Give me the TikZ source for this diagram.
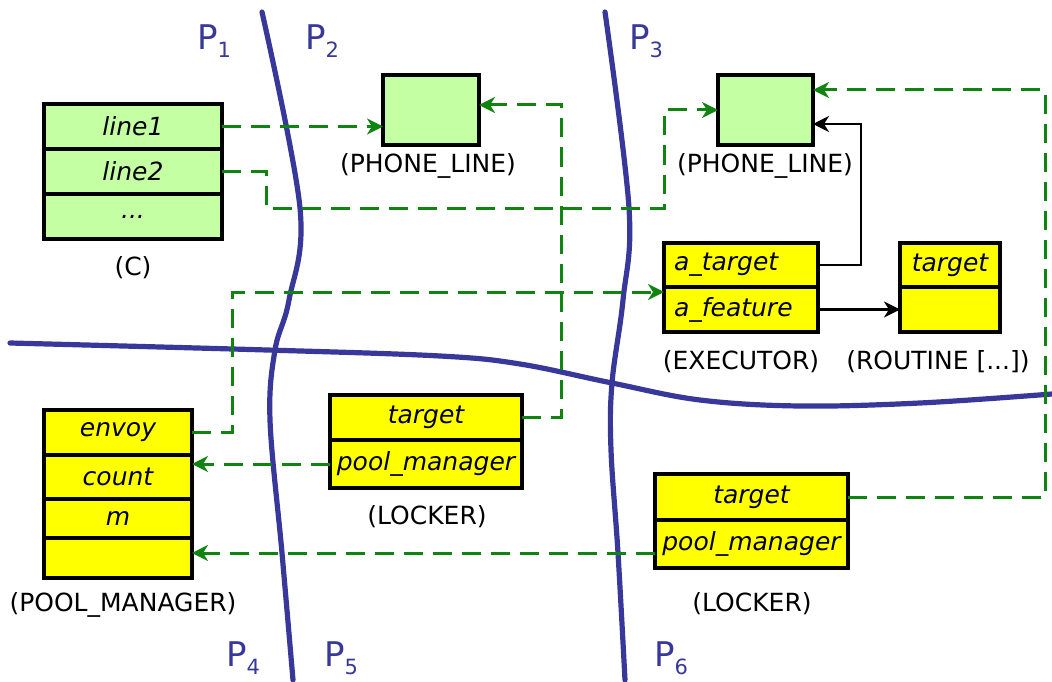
\documentclass[tikz,border=0pt]{standalone}
\usepackage{fontspec}
\setmainfont{DejaVu Sans}
\usetikzlibrary{arrows.meta,calc}

\definecolor{partblue}{RGB}{56,56,155}
\definecolor{refgreen}{RGB}{16,132,16}
\definecolor{objgreen}{RGB}{196,255,164}
\definecolor{objyellow}{RGB}{255,255,0}

\tikzset{
  objrow/.style={draw=black, line width=3.4pt, inner sep=0pt, outer sep=0pt,
    font=\fontsize{25}{29}\selectfont\itshape},
  greenrow/.style={objrow, fill=objgreen},
  yellowrow/.style={objrow, fill=objyellow},
  leftrow/.style={yellowrow, text width=#1, align=left, inner xsep=10pt},
  captiontext/.style={font=\fontsize{25}{29}\selectfont, inner sep=0pt},
  partline/.style={draw=partblue, line width=5.2pt, line cap=round},
  plabel/.style={text=partblue, font=\fontsize{34}{38}\selectfont, inner sep=0pt},
  refline/.style={draw=refgreen, line width=3pt, dash pattern=on 19pt off 10pt,
    -{Stealth[length=16pt, width=16pt, inset=5pt]}},
  linkline/.style={draw=black, line width=2.8pt,
    -{Stealth[length=16pt, width=16pt, inset=5pt]}}
}

\newcommand{\plab}[2]{#1\raisebox{-8pt}{\fontsize{21}{24}\selectfont #2}}

\begin{document}
\begin{tikzpicture}[x=1pt, y=-1pt]
\useasboundingbox (0,0) rectangle (1052,682);

% partition boundaries
\draw[partline] plot[smooth, tension=0.6] coordinates
  {(262,12) (300,208) (289,300) (275,350) (270,420) (282,553) (293,680)};
\draw[partline] plot[smooth, tension=0.6] coordinates
  {(605,12) (629,208) (623,300) (612,383) (611,450) (618,553) (625,680)};
\draw[partline] plot[smooth, tension=0.6] coordinates
  {(10,343) (267,350) (440,356) (520,364) (612,383) (700,400) (800,406) (920,403) (1052,394)};

\node[plabel, anchor=base west] (p1) at (197,50) {\plab{P}{1}};
\node[plabel, anchor=base west] (p2) at (305,50) {\plab{P}{2}};
\node[plabel, anchor=base west] (p3) at (629,50) {\plab{P}{3}};
\node[plabel, anchor=base west] (p4) at (226,666) {\plab{P}{4}};
\node[plabel, anchor=base west] (p5) at (324,666) {\plab{P}{5}};
\node[plabel, anchor=base west] (p6) at (654,666) {\plab{P}{6}};

% object C
\node[greenrow, minimum width=178, minimum height=45] (c1) at (133,126.5) {line1};
\node[greenrow, minimum width=178, minimum height=45] (c2) at (133,171.5) {line2};
\node[greenrow, minimum width=178, minimum height=45] (c3) at (133,216.5) {...};
\node[captiontext] (cc) at (133,268) {(C)};

% PHONE_LINE objects
\node[greenrow, minimum width=96, minimum height=70] (pl1) at (431,110) {};
\node[captiontext] (cpl1) at (428,166) {(PHONE\_LINE)};
\node[greenrow, minimum width=95, minimum height=70] (pl2) at (765.5,110) {};
\node[captiontext] (cpl2) at (765,166) {(PHONE\_LINE)};

% EXECUTOR
\node[leftrow=134, minimum height=44] (ex1) at (741,265) {a\_target};
\node[leftrow=134, minimum height=45] (ex2) at (741,309.5) {a\_feature};
\node[captiontext] (cex) at (741,362) {(EXECUTOR)};

% ROUTINE
\node[yellowrow, minimum width=100, minimum height=44] (rt1) at (950,265) {target};
\node[yellowrow, minimum width=100, minimum height=45] (rt2) at (950,309.5) {};
\node[captiontext] (crt) at (938,362) {(ROUTINE [...])};

% POOL_MANAGER
\node[yellowrow, minimum width=148, minimum height=45] (pm1) at (118,432.5) {envoy};
\node[yellowrow, minimum width=148, minimum height=44] (pm2) at (118,477) {count};
\node[yellowrow, minimum width=148, minimum height=39] (pm3) at (118,518.5) {m};
\node[yellowrow, minimum width=148, minimum height=40] (pm4) at (118,558) {};
\node[captiontext] (cpm) at (123,605) {(POOL\_MANAGER)};

% LOCKER objects
\node[yellowrow, minimum width=192, minimum height=45] (lk1t) at (426,417.5) {target};
\node[yellowrow, minimum width=192, minimum height=48] (lk1p) at (426,464) {pool\_manager};
\node[captiontext] (clk1) at (427,517) {(LOCKER)};
\node[yellowrow, minimum width=193, minimum height=46] (lk2t) at (751.5,497) {target};
\node[yellowrow, minimum width=193, minimum height=48] (lk2p) at (751.5,544) {pool\_manager};
\node[captiontext] (clk2) at (752,604) {(LOCKER)};

% bends of the reference paths
\coordinate (j2a) at (266,208);
\coordinate (j2b) at (664,208);
\coordinate (j3) at (561,105);
\coordinate (j4) at (232,292);
\coordinate (j7) at (1045,90);
\coordinate (j8) at (861,124);
\coordinate (j6) at (0,553);

% references
\draw[refline] (c1.east) -- (c1.east -| pl1.west);
\draw[refline] (c2.east) -| (j2a) -- (j2b) |- (pl2.west);
\draw[refline] (lk1t.east) -| (j3) -- (j3 -| pl1.east);
\draw[refline] (pm1.east) -| (j4) -- (j4 -| ex2.west);
\draw[refline] (lk1p.west) -- (lk1p.west -| pm2.east);
\draw[refline] (lk2p.west |- j6) -- (pm4.east |- j6);
\draw[refline] (lk2t.east) -| (j7) -- (j7 -| pl2.east);

% local links
\draw[linkline] (ex1.east) -| (j8) -- (j8 -| pl2.east);
\draw[linkline] (ex2.east) -- (ex2.east -| rt2.west);
\end{tikzpicture}
\end{document}
